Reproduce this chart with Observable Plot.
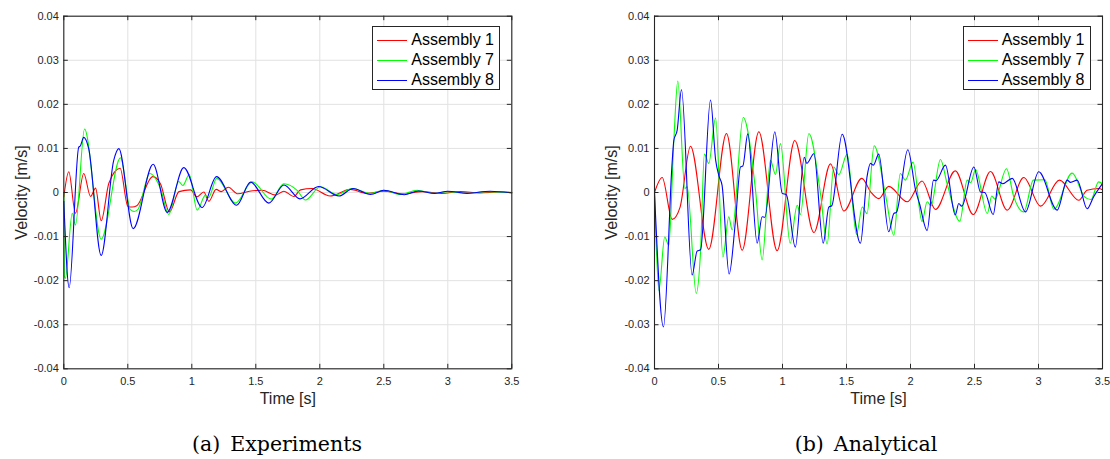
<!DOCTYPE html>
<html>
<head>
<meta charset="utf-8">
<script src="https://cdn.jsdelivr.net/npm/d3@7"></script>
<script src="https://cdn.jsdelivr.net/npm/@observablehq/plot@0.6"></script>
<style>
  body { margin: 0; background: #fff; }
  #wrap { position: relative; width: 1110px; height: 459px; overflow: hidden; background: #fff; }
  .panel { position: absolute; top: 0; }
  .legend { position: absolute; box-sizing: border-box; border: 1px solid #262626; background: #fff;
            font-family: "Liberation Sans", Arial, sans-serif; font-size: 16px; color: #000; }
  .legend .row { position: absolute; left: 0; height: 20px; display: flex; align-items: center; white-space: nowrap; }
  .legend .sw { display: inline-block; width: 30px; height: 0; border-top: 1px solid; margin-left: 4px; margin-right: 4px; }
  .caption { position: absolute; width: 320px; text-align: center; font-family: "DejaVu Serif", serif;
             font-size: 20.5px; color: #000; line-height: 24px; white-space: pre; }
</style>
</head>
<body>
<div id="wrap"></div>
<script>
// ---------------- data ----------------
const seriesNames = ["Assembly 1", "Assembly 7", "Assembly 8"];
const seriesColors = ["#ff0000", "#00ff00", "#0000ff"];
const panelCaptions = [["(a)", "Experiments"], ["(b)", "Analytical"]];
const xLabel = "Time [s]";
const yLabel = "Velocity [m/s]";
const xTicks = [0, 0.5, 1, 1.5, 2, 2.5, 3, 3.5];
const xTickLabels = ["0", "0.5", "1", "1.5", "2", "2.5", "3", "3.5"];
const yTicks = [-0.04, -0.03, -0.02, -0.01, 0, 0.01, 0.02, 0.03, 0.04];
const yTickLabels = ["-0.04", "-0.03", "-0.02", "-0.01", "0", "0.01", "0.02", "0.03", "0.04"];

// (a) Experiments: [time s, velocity m/s] read at turning points
const expAssembly1 = [[0,-0.0010],[0.039,0.0047],[0.091,-0.0047],[0.156,0.0043],[0.209,-0.0009],[0.248,0.0010],[0.292,-0.0064],[0.352,0.0021],[0.44,0.0055],[0.5,-0.0031],[0.535,-0.0033],[0.57,-0.0030],[0.695,0.0036],[0.755,0.0020],[0.825,-0.0044],[0.9,0.0002],[0.99,0.0006],[1.04,-0.0010],[1.094,0.0001],[1.133,-0.0020],[1.19,0.0007],[1.23,0.0002],[1.285,0.0012],[1.36,-0.0003],[1.45,0.0003],[1.55,0.0005],[1.654,-0.0006],[1.72,0.0003],[1.797,-0.0009],[1.85,0.0006],[1.94,0.0009],[2.08,-0.0008],[2.24,0.0007],[2.37,-0.0002],[2.5,0.0003],[2.65,-0.0003],[2.8,0.0002],[2.95,-0.0002],[3.1,0.0002],[3.25,-0.0001],[3.4,0.0001],[3.5,0.0000]];
const expAssembly7 = [[0,0],[0.004,-0.0190],[0.012,-0.0195],[0.066,-0.0047],[0.091,-0.0074],[0.162,0.0144],[0.292,-0.0106],[0.443,0.0079],[0.52,-0.0039],[0.55,-0.0043],[0.58,-0.0038],[0.672,0.0043],[0.755,0.0009],[0.82,-0.0050],[0.898,0.0025],[0.93,0.0016],[0.98,0.0041],[1.042,-0.0040],[1.107,-0.0006],[1.13,-0.0012],[1.195,0.0032],[1.341,-0.0024],[1.472,0.0024],[1.62,-0.0015],[1.719,0.0020],[1.823,0.0005],[1.888,-0.0017],[2.005,0.0013],[2.136,-0.00045],[2.253,0.0009],[2.396,-0.0002],[2.5,0.0005],[2.63,-0.00045],[2.76,0.0005],[2.89,-0.0002],[3.0,0.0002],[3.15,-0.0002],[3.3,0.0002],[3.5,0]];
const expAssembly8 = [[0,-0.0020],[0.042,-0.0216],[0.117,0.0103],[0.128,0.0105],[0.156,0.0125],[0.195,0.0099],[0.292,-0.0143],[0.39,0.0073],[0.43,0.00995],[0.542,-0.0082],[0.698,0.0064],[0.808,-0.0045],[0.9375,0.00565],[1.081,-0.0034],[1.193,0.0036],[1.35,-0.0029],[1.459,0.00235],[1.602,-0.0024],[1.72,0.0017],[1.845,-0.00145],[1.99,0.00135],[2.15,-0.0008],[2.26,0.0009],[2.396,-0.00045],[2.5,0.0005],[2.66,-0.0005],[2.77,0.00035],[2.9,-0.0002],[3.0,0.0003],[3.15,-0.0002],[3.33,0.0003],[3.5,-0.0001]];

// (b) Analytical
const anaAssembly1 = [[0,0],[0.06,0.0034],[0.138,-0.0061],[0.2,-0.0033],[0.281,0.0105],[0.424,-0.0129],[0.5625,0.0134],[0.685,-0.0131],[0.815,0.0138],[0.958,-0.0132],[1.096,0.0118],[1.245,-0.0091],[1.375,0.0065],[1.479,-0.0042],[1.62,0.0032],[1.69,0.0001],[1.752,-0.0014],[1.83,0.0014],[1.974,-0.0021],[2.09,0.0026],[2.195,-0.00385],[2.35,0.0049],[2.49,-0.0050],[2.625,0.00475],[2.755,-0.0040],[2.885,0.0034],[3.016,-0.0031],[3.164,0.0028],[3.315,-0.00175],[3.38,0.0005],[3.47,0.0009],[3.5,0.0006]];
const anaAssembly7 = [[0,0],[0.034,-0.0222],[0.08,-0.0101],[0.112,-0.0120],[0.151,0.0118],[0.182,0.0253],[0.237,0.0009],[0.255,0.0013],[0.326,-0.0229],[0.359,-0.0138],[0.39,0.0087],[0.424,0.0066],[0.477,0.0169],[0.535,-0.0146],[0.58,-0.0055],[0.607,-0.0085],[0.693,0.0170],[0.79,0.0003],[0.841,-0.0153],[0.906,0.0073],[0.945,0.0041],[0.984,0.0111],[1.06,-0.0115],[1.115,-0.0029],[1.14,-0.0050],[1.206,0.0134],[1.297,-0.0003],[1.349,-0.0117],[1.4,0.0058],[1.44,0.0041],[1.505,0.0087],[1.578,-0.0095],[1.623,-0.0033],[1.66,-0.0048],[1.716,0.0106],[1.805,-0.0006],[1.87,-0.0097],[1.92,0.0043],[1.96,0.0028],[2.02,0.0069],[2.09,-0.0066],[2.13,-0.0021],[2.16,-0.0030],[2.234,0.0075],[2.286,0.0020],[2.385,-0.0065],[2.443,0.0028],[2.47,0.0022],[2.508,0.0052],[2.6,-0.00475],[2.635,-0.0008],[2.66,-0.0015],[2.75,0.0054],[2.807,-0.0010],[2.885,-0.0044],[2.96,0.0028],[3.05,0.0029],[3.12,-0.0038],[3.263,0.0044],[3.36,-0.0010],[3.41,-0.0016],[3.47,0.0024],[3.5,0.0020]];
const anaAssembly8 = [[0,0],[0.07,-0.0305],[0.138,0.0069],[0.151,0.0118],[0.177,0.0141],[0.211,0.0233],[0.294,-0.0187],[0.333,-0.0133],[0.36,-0.0130],[0.4375,0.0210],[0.478,0.0073],[0.502,0.0039],[0.528,0.0016],[0.583,-0.0185],[0.633,-0.0063],[0.672,0.0058],[0.69,0.0060],[0.729,0.0133],[0.802,-0.0115],[0.841,-0.0055],[0.862,-0.0056],[0.94,0.0138],[0.998,-0.0002],[1.03,-0.0005],[1.1,-0.0124],[1.17,0.0080],[1.19,0.0066],[1.245,0.0088],[1.318,-0.0115],[1.362,-0.0033],[1.385,-0.0030],[1.466,0.0132],[1.609,-0.0115],[1.66,0.0035],[1.6875,0.0066],[1.71,0.0062],[1.752,0.0087],[1.83,-0.0089],[1.87,-0.00475],[1.89,-0.0045],[1.979,0.0097],[2.04,0.0005],[2.07,-0.0025],[2.13,-0.0086],[2.18,0.0028],[2.2,0.0027],[2.273,0.0062],[2.35,-0.0051],[2.377,-0.0025],[2.4,-0.0031],[2.495,0.0058],[2.547,0.0001],[2.58,0.0000],[2.646,-0.0050],[2.69,0.0024],[2.72,0.0020],[2.795,0.0032],[2.898,-0.0044],[3.002,0.0047],[3.146,-0.0040],[3.224,0.0028],[3.25,0.0023],[3.302,0.0028],[3.38,-0.0037],[3.43,-0.0010],[3.5,0.0020]];

// ---------------- drawing ----------------
const wrap = document.getElementById("wrap");
const W = 555, H = 420, mTop = 15.7, mBottom = 51.7;
const tickLen = 4.5;

function rowsOf(seriesList) {
  const rows = [];
  seriesList.forEach((pts, k) => pts.forEach(([t, v]) => rows.push({t, v, series: seriesNames[k]})));
  return rows;
}

function makePanel(seriesList, offsetX, mLeft, mRight) {
  const plotW = W - mLeft - mRight, plotH = H - mTop - mBottom;
  const svg = Plot.plot({
    width: W, height: H,
    marginLeft: mLeft, marginRight: mRight, marginTop: mTop, marginBottom: mBottom,
    x: {domain: [0, 3.5]},
    y: {domain: [-0.04, 0.04]},
    color: {domain: seriesNames, range: seriesColors},
    style: {fontFamily: "'Liberation Sans', Arial, sans-serif", fontSize: "11px", color: "#262626", background: "white", overflow: "visible"},
    marks: [
      Plot.gridX(xTicks, {stroke: "#e2e2e2", strokeOpacity: 1}),
      Plot.gridY(yTicks, {stroke: "#e2e2e2", strokeOpacity: 1}),
      Plot.line(rowsOf(seriesList), {x: "t", y: "v", z: "series", stroke: "series", curve: "monotone-x", strokeWidth: 1.1}),
      Plot.frame({stroke: "#262626", strokeWidth: 1.1}),
      Plot.tickX(xTicks, {x: d => d, insetTop: plotH - tickLen, stroke: "#262626"}),
      Plot.tickX(xTicks, {x: d => d, insetBottom: plotH - tickLen, stroke: "#262626"}),
      Plot.tickY(yTicks, {y: d => d, insetRight: plotW - tickLen, stroke: "#262626"}),
      Plot.tickY(yTicks, {y: d => d, insetLeft: plotW - tickLen, stroke: "#262626"}),
      Plot.axisX(xTicks, {tickSize: 0, tickPadding: 8, tickFormat: d => xTickLabels[xTicks.indexOf(d)], label: null, fontSize: 11}),
      Plot.axisY(yTicks, {tickSize: 0, tickPadding: 5, tickFormat: d => yTickLabels[yTicks.indexOf(d)], label: null, fontSize: 11}),
      Plot.text([xLabel], {frameAnchor: "bottom", dy: 30.5, lineAnchor: "middle", textAnchor: "middle", text: d => d, fontSize: 16}),
      Plot.text([yLabel], {frameAnchor: "left", dx: -42.3, rotate: -90, lineAnchor: "middle", textAnchor: "middle", text: d => d, fontSize: 16})
    ]
  });
  svg.classList.add("panel");
  svg.style.left = offsetX + "px";
  wrap.appendChild(svg);
}

function makeLegend(left, top) {
  const box = document.createElement("div");
  box.className = "legend";
  box.style.left = left + "px"; box.style.top = top + "px";
  box.style.width = "128px"; box.style.height = "64px";
  seriesNames.forEach((name, i) => {
    const row = document.createElement("div");
    row.className = "row";
    row.style.top = (3.3 + 20 * i) + "px";
    const sw = document.createElement("span");
    sw.className = "sw"; sw.style.borderColor = seriesColors[i];
    const tx = document.createElement("span");
    tx.textContent = name;
    row.appendChild(sw); row.appendChild(tx);
    box.appendChild(row);
  });
  wrap.appendChild(box);
}

function makeCaption(parts, center) {
  const c = document.createElement("div");
  c.className = "caption";
  c.style.left = (center - 160) + "px";
  c.style.top = (444 - 12) + "px";
  const a = document.createElement("span"); a.textContent = parts[0];
  const b = document.createElement("span"); b.textContent = parts[1]; b.style.marginLeft = "10px";
  c.appendChild(a); c.appendChild(b);
  wrap.appendChild(c);
}

makePanel([expAssembly1, expAssembly7, expAssembly8], 0, 63.3, 43.7);
makePanel([anaAssembly1, anaAssembly7, anaAssembly8], 555, 99, 8);
makeLegend(372.3, 26);
makeLegend(962.7, 26);
makeCaption(panelCaptions[0], 277);
makeCaption(panelCaptions[1], 866);
</script>
</body>
</html>
